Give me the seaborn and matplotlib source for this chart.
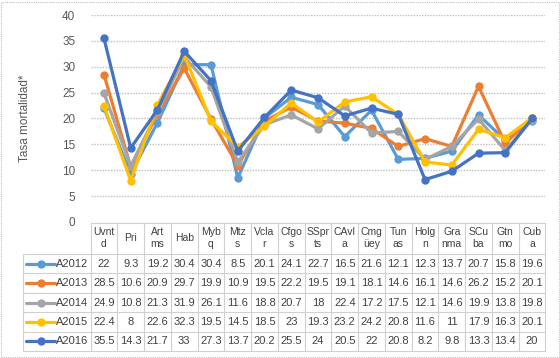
import matplotlib
matplotlib.use("Agg")
import matplotlib.pyplot as plt
import matplotlib.transforms as mtransforms
from matplotlib.patches import Rectangle
from matplotlib.lines import Line2D
import seaborn as sns
import pandas as pd

categories = ["Uvntd", "Pri", "Artms", "Hab", "Mybq", "Mtzs", "Vclar", "Cfgos", "SSprts",
              "CAvla", "Cmgüey", "Tunas", "Holgn", "Granma", "SCuba", "Gtnmo", "Cuba"]
cat_labels = ["Uvnt\nd", "Pri", "Art\nms", "Hab", "Myb\nq", "Mtz\ns", "Vcla\nr", "Cfgo\ns",
              "SSpr\nts", "CAvl\na", "Cmg\nüey", "Tun\nas", "Holg\nn", "Gra\nnma", "SCu\nba",
              "Gtn\nmo", "Cub\na"]
series_names = ["A2012", "A2013", "A2014", "A2015", "A2016"]
a2012 = [22, 9.3, 19.2, 30.4, 30.4, 8.5, 20.1, 24.1, 22.7, 16.5, 21.6, 12.1, 12.3, 13.7, 20.7, 15.8, 19.6]
a2013 = [28.5, 10.6, 20.9, 29.7, 19.9, 10.9, 19.5, 22.2, 19.5, 19.1, 18.1, 14.6, 16.1, 14.6, 26.2, 15.2, 20.1]
a2014 = [24.9, 10.8, 21.3, 31.9, 26.1, 11.6, 18.8, 20.7, 18, 22.4, 17.2, 17.5, 12.1, 14.6, 19.9, 13.8, 19.8]
a2015 = [22.4, 8, 22.6, 32.3, 19.5, 14.5, 18.5, 23, 19.3, 23.2, 24.2, 20.8, 11.6, 11, 17.9, 16.3, 20.1]
a2016 = [35.5, 14.3, 21.7, 33, 27.3, 13.7, 20.2, 25.5, 24, 20.5, 22, 20.8, 8.2, 9.8, 13.3, 13.4, 20]
y_ticks = [0, 5, 10, 15, 20, 25, 30, 35, 40]
y_label = "Tasa mortalidad*"

series_values = [a2012, a2013, a2014, a2015, a2016]
colors = ["#5B9BD5", "#ED7D31", "#A5A5A5", "#FFC000", "#4472C4"]
palette = dict(zip(series_names, colors))

rows = []
for name, vals in zip(series_names, series_values):
    for i, v in enumerate(vals):
        rows.append({"idx": i, "cat": categories[i], "serie": name, "valor": v})
df = pd.DataFrame(rows)

sns.set_style("white")
plt.rcParams["font.family"] = ["Liberation Sans", "DejaVu Sans"]

W, H = 560, 358
fig = plt.figure(figsize=(W / 100, H / 100), dpi=100)
ax_left, ax_right, ax_top, ax_bot = 90.6, 545.4, 15, 222
ax = fig.add_axes([ax_left / W, 1 - ax_bot / H, (ax_right - ax_left) / W, (ax_bot - ax_top) / H])

sns.lineplot(data=df, x="idx", y="valor", hue="serie", palette=palette, marker="o",
             markersize=6, markeredgewidth=0, linewidth=2.3, sort=False, legend=False,
             ax=ax, zorder=3)

ax.set_xlim(-0.5, len(categories) - 0.5)
ax.set_ylim(0, 40)
ax.set_yticks(y_ticks)
ax.set_yticklabels([str(t) for t in y_ticks], color="#595959", fontsize=8.5)
ax.tick_params(axis="y", length=0, pad=11)
ax.set_xticks([])
ax.set_xlabel("")
ax.set_ylabel("")
for s in ax.spines.values():
    s.set_visible(False)
ax.grid(axis="y", color="#BFBFBF", linestyle=(0, (1, 1)), linewidth=1)
ax.set_axisbelow(True)

fig.text(25 / W, 1 - 118 / H, y_label, rotation=90, ha="center", va="center",
         fontsize=8.5, color="#595959")

# data table
trans = mtransforms.blended_transform_factory(ax.transData, ax.transAxes)
def yf(px):
    return (ax_bot - px) / (ax_bot - ax_top)
def xd(px):
    return -0.5 + (px - ax_left) / (ax_right - ax_left) * len(categories)

line_col = "#D0D0D0"
row_edges = [254, 273.5, 293, 312.5, 332, 351]
hdr_top = 223
n = len(categories)
# horizontal lines
ax.add_line(Line2D([-0.5, n - 0.5], [yf(hdr_top)] * 2, transform=trans, color=line_col,
                   lw=0.8, clip_on=False))
for ry in row_edges:
    ax.add_line(Line2D([xd(23), n - 0.5], [yf(ry)] * 2, transform=trans, color=line_col,
                       lw=0.8, clip_on=False))
# vertical lines
ax.add_line(Line2D([xd(23)] * 2, [yf(row_edges[0]), yf(row_edges[-1])], transform=trans,
                   color=line_col, lw=0.8, clip_on=False))
for k in range(n + 1):
    ax.add_line(Line2D([k - 0.5] * 2, [yf(hdr_top), yf(row_edges[-1])], transform=trans,
                       color=line_col, lw=0.8, clip_on=False))
# header labels
for i, lab in enumerate(cat_labels):
    ax.text(i, yf((hdr_top + row_edges[0]) / 2), lab, transform=trans, ha="center",
            va="center", fontsize=7.5, color="#404040", linespacing=1.25, clip_on=False)
# rows
for r, (name, vals) in enumerate(zip(series_names, series_values)):
    cy = yf((row_edges[r] + row_edges[r + 1]) / 2)
    ax.add_line(Line2D([xd(26), xd(55)], [cy, cy], transform=trans, color=palette[name],
                       lw=2.3, clip_on=False))
    ax.add_line(Line2D([xd(40.5)], [cy], transform=trans, color=palette[name], marker="o",
                       markersize=6, markeredgewidth=0, clip_on=False))
    ax.text(xd(56), cy, name, transform=trans, ha="left", va="center", fontsize=8,
            color="#404040", clip_on=False)
    for i, v in enumerate(vals):
        ax.text(i, cy, f"{v:g}", transform=trans, ha="center", va="center", fontsize=8,
                color="#404040", clip_on=False)

# outer dotted border
fig.add_artist(Rectangle((0.5 / W, 1.5 / H), (W - 2) / W, (H - 3) / H, transform=fig.transFigure,
                         fill=False, edgecolor="#BFBFBF", lw=0.8, linestyle=(0, (1, 1))))

fig.savefig("out.png", dpi=100)
